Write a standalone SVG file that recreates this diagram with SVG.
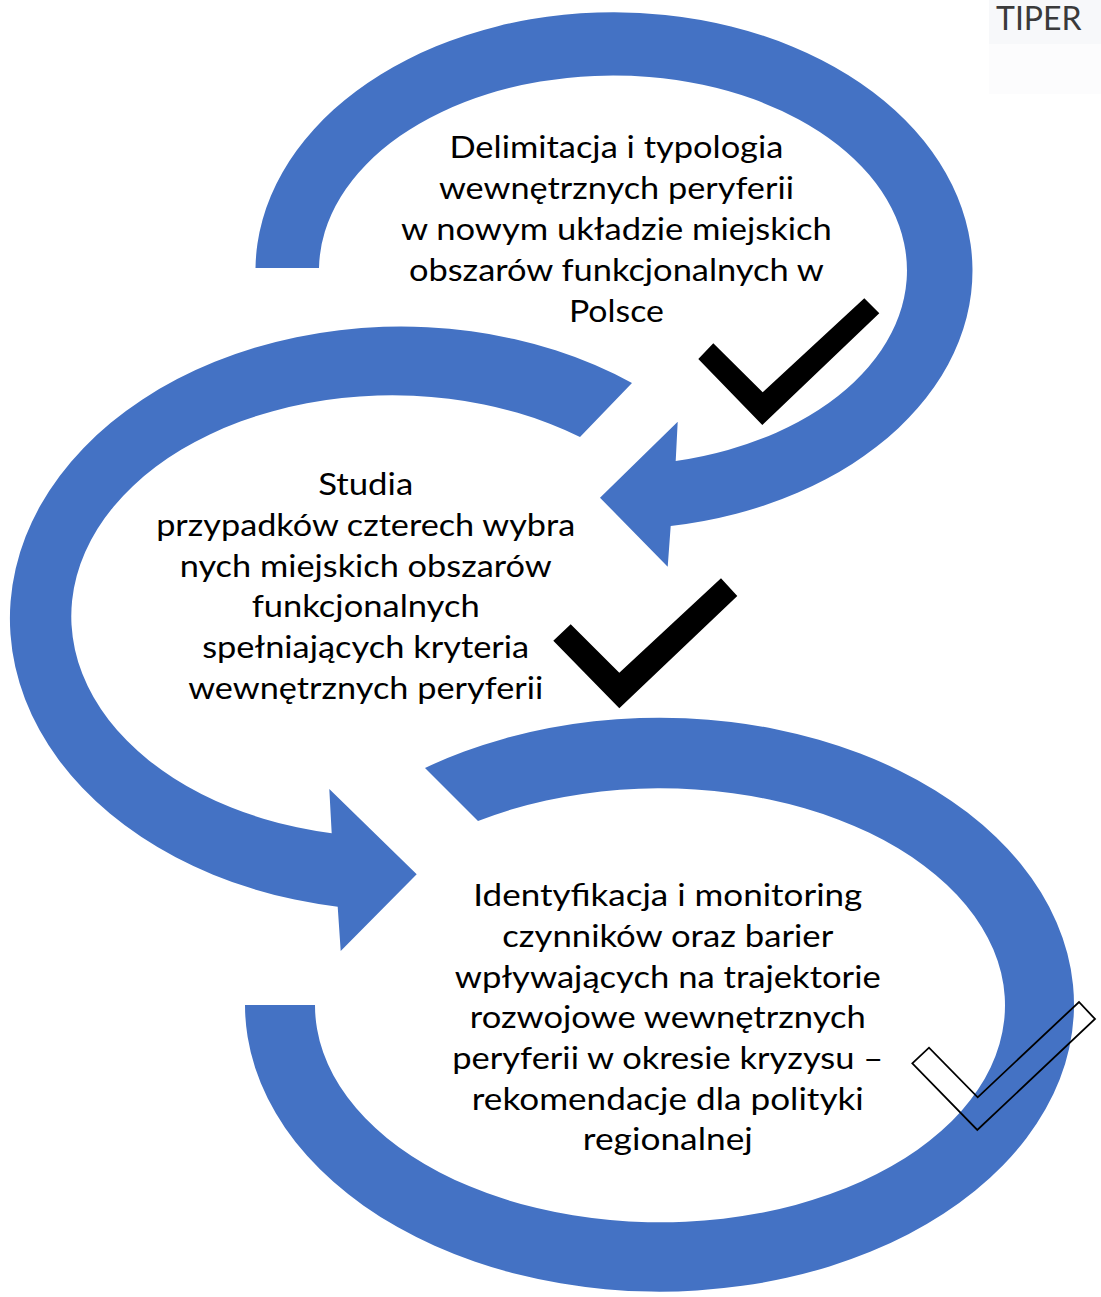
<svg xmlns="http://www.w3.org/2000/svg" width="1101" height="1297" viewBox="0 0 1101 1297">
  <style>
    .ring { fill: #4472C4; }
    .label { font-family: Lato, "Liberation Sans", sans-serif; font-size: 31px; fill: #000000; text-anchor: middle; }
    .check { fill: #000000; }
    .check-outline { fill: none; stroke: #000000; stroke-width: 1.8; stroke-linejoin: miter; }
    .brand { font-family: Lato, "Liberation Sans", sans-serif; font-size: 32px; fill: #3a3a3a; }
  </style>
  <rect x="0" y="0" width="1101" height="1297" fill="#ffffff"/>

  <g id="brand">
    <rect x="989" y="0" width="112" height="44" fill="#f7f8fa"/>
    <rect x="989" y="44" width="112" height="50" fill="#fcfcfd"/>
    <text class="brand" x="996" y="30">TIPER</text>
  </g>

  <g id="connectors">
    <path id="ring1" class="ring" d="M 255.5 268 A 358.5 258.5 0 1 1 670.7 526 L 667.7 566.7 L 600 497.7 L 677.7 421.7 L 675.7 461 A 294 195 0 1 0 319 268 Z"/>
    <path id="ring2" class="ring" d="M 632 383 A 391 292 0 1 0 337.7 906.7 L 340.7 951 L 416.7 874.3 L 329.3 789 L 331.7 833.3 A 321 221 0 1 1 580 437 Z"/>
    <path id="ring3" class="ring" d="M 425 768 A 414.5 287 0 1 1 245 1005 L 315 1005 A 345 217 0 1 0 478 821 Z"/>
  </g>

  <g id="stage1">
    <text class="label" x="616.4" y="158.3" textLength="334" lengthAdjust="spacingAndGlyphs">Delimitacja i typologia</text>
    <text class="label" x="616.4" y="199.3" textLength="355" lengthAdjust="spacingAndGlyphs">wewnętrznych peryferii</text>
    <text class="label" x="616.4" y="240.3" textLength="431" lengthAdjust="spacingAndGlyphs">w nowym układzie miejskich</text>
    <text class="label" x="616.4" y="281.3" textLength="415" lengthAdjust="spacingAndGlyphs">obszarów funkcjonalnych w</text>
    <text class="label" x="616.4" y="322.3" textLength="95" lengthAdjust="spacingAndGlyphs">Polsce</text>
    <polygon class="check" points="698.3,359 713.3,343.3 762.7,392.3 864.3,298.3 879.3,313.3 762.3,425"/>
  </g>

  <g id="stage2">
    <text class="label" x="365.7" y="495" textLength="95" lengthAdjust="spacingAndGlyphs">Studia</text>
    <text class="label" x="365.7" y="535.8" textLength="419" lengthAdjust="spacingAndGlyphs">przypadków czterech wybra</text>
    <text class="label" x="365.7" y="576.6" textLength="372" lengthAdjust="spacingAndGlyphs">nych miejskich obszarów</text>
    <text class="label" x="365.7" y="617.4" textLength="228" lengthAdjust="spacingAndGlyphs">funkcjonalnych</text>
    <text class="label" x="365.7" y="658.2" textLength="327" lengthAdjust="spacingAndGlyphs">spełniających kryteria</text>
    <text class="label" x="365.7" y="699" textLength="355" lengthAdjust="spacingAndGlyphs">wewnętrznych peryferii</text>
    <polygon class="check" points="553.3,640.7 570.7,624.3 619.3,672.7 721,578.3 737.3,596 619.3,708.3"/>
  </g>

  <g id="stage3">
    <text class="label" x="667.8" y="906" textLength="389" lengthAdjust="spacingAndGlyphs">Identyfikacja i monitoring</text>
    <text class="label" x="667.8" y="947" textLength="331" lengthAdjust="spacingAndGlyphs">czynników oraz barier</text>
    <text class="label" x="667.8" y="987.5" textLength="426" lengthAdjust="spacingAndGlyphs">wpływających na trajektorie</text>
    <text class="label" x="667.8" y="1028.3" textLength="396" lengthAdjust="spacingAndGlyphs">rozwojowe wewnętrznych</text>
    <text class="label" x="667.8" y="1069.2" textLength="431" lengthAdjust="spacingAndGlyphs">peryferii w okresie kryzysu –</text>
    <text class="label" x="667.8" y="1109.8" textLength="392" lengthAdjust="spacingAndGlyphs">rekomendacje dla polityki</text>
    <text class="label" x="667.8" y="1150" textLength="170" lengthAdjust="spacingAndGlyphs">regionalnej</text>
    <polygon class="check-outline" points="912.3,1063.3 929,1047.7 977.7,1097.3 1079,1002 1095,1019 977.3,1130"/>
  </g>
</svg>
